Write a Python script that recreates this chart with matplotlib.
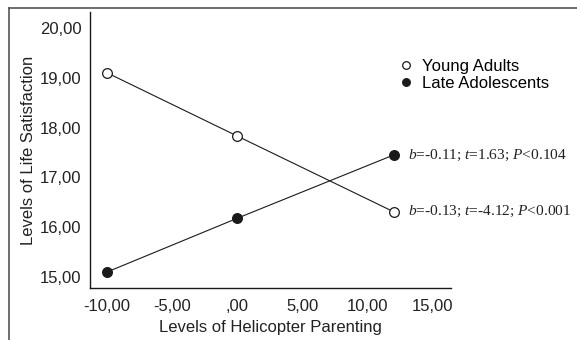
import matplotlib
matplotlib.use("Agg")
import matplotlib.pyplot as plt
from matplotlib.lines import Line2D

# data
parenting = [-10, 0, 12]
young_adults = [19.10, 17.83, 16.31]
late_adolescents = [15.10, 16.18, 17.45]

x_ticks = [-10, -5, 0, 5, 10, 15]
x_tick_labels = ["-10,00", "-5,00", ",00", "5,00", "10,00", "15,00"]
y_ticks = [15, 16, 17, 18, 19, 20]
y_tick_labels = ["15,00", "16,00", "17,00", "18,00", "19,00", "20,00"]

series_names = ["Young Adults", "Late Adolescents"]
stats_young = r"$\it{b}$=-0.13; $\it{t}$=-4.12; $\it{P}$<0.001"
stats_late = r"$\it{b}$=-0.11; $\it{t}$=1.63; $\it{P}$<0.104"

plt.rcParams["font.family"] = ["Liberation Sans", "DejaVu Sans"]
plt.rcParams["mathtext.fontset"] = "custom"
plt.rcParams["mathtext.rm"] = "Liberation Serif"
plt.rcParams["mathtext.it"] = "Liberation Serif:italic"

fig = plt.figure(figsize=(5.77, 3.4), dpi=100)
ax = fig.add_axes([90 / 577, 1 - 288 / 340, 361 / 577, 276 / 340])

ink = "#1a1a1a"
txt = "#222222"
ax.plot(parenting, young_adults, color=ink, lw=0.8, marker="o", ms=7,
        mfc="white", mec=ink, mew=0.9)
ax.plot(parenting, late_adolescents, color=ink, lw=0.8, marker="o", ms=7,
        mfc=ink, mec=ink, mew=0.9)

ax.set_xlim(-11.3, 16.4)
ax.set_ylim(14.78, 20.32)
ax.set_xticks(x_ticks)
ax.set_xticklabels(x_tick_labels)
ax.set_yticks(y_ticks)
ax.set_yticklabels(y_tick_labels)
ax.tick_params(length=0, labelsize=12, colors=txt)
ax.tick_params(axis="x", pad=8)
ax.tick_params(axis="y", pad=6)
for side in ["top", "right"]:
    ax.spines[side].set_visible(False)
for side in ["left", "bottom"]:
    ax.spines[side].set_linewidth(1.0)
    ax.spines[side].set_color(ink)

ax.set_xlabel("Levels of Helicopter Parenting", fontsize=12, color=txt,
              labelpad=4)
ax.set_ylabel("Levels of Life Satisfaction", fontsize=12, color=txt,
              labelpad=3)

# regression stats next to the right-hand points
ax.annotate(stats_late, (parenting[-1], late_adolescents[-1]),
            xytext=(10.5, 0), textcoords="offset points", va="center",
            fontsize=11.1, family="Liberation Serif", color=txt)
ax.annotate(stats_young, (parenting[-1], young_adults[-1]),
            xytext=(10.5, 0), textcoords="offset points", va="center",
            fontsize=11.1, family="Liberation Serif", color=txt)

handles = [
    Line2D([], [], ls="none", marker="o", ms=5.5, mfc="white", mec=ink, mew=0.9),
    Line2D([], [], ls="none", marker="o", ms=5.5, mfc=ink, mec=ink, mew=0.9),
]
fig.legend(handles, series_names, loc="upper left",
           bbox_to_anchor=(399 / 577, 1 - 59 / 340), frameon=False,
           fontsize=12, handlelength=0.8, handletextpad=0.55,
           labelspacing=0.12, borderpad=0, borderaxespad=0)

# outer frame (top and left edges only)
fig.add_artist(Line2D([9 / 577, 9 / 577], [0, 1 - 8 / 340],
                      transform=fig.transFigure, color="#555555", lw=1.2))
fig.add_artist(Line2D([9 / 577, 1], [1 - 8 / 340, 1 - 8 / 340],
                      transform=fig.transFigure, color="#555555", lw=1.2))

fig.savefig("out.png", dpi=100)
